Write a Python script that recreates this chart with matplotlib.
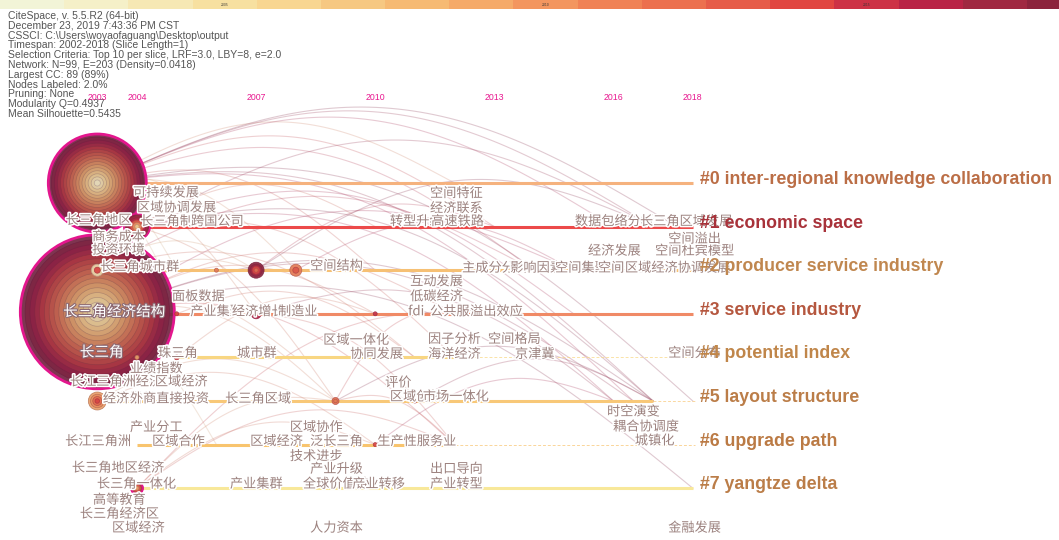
import numpy as np
import matplotlib.pyplot as plt
import matplotlib.patheffects as pe
from matplotlib.patches import Circle, Rectangle
from matplotlib.colors import to_rgb

plt.rcParams['font.family'] = ['Noto Sans CJK SC', 'DejaVu Sans']

# ---- data -------------------------------------------------------------
slice_years = list(range(2002, 2019))
slice_colors = ['#f2f4d7', '#f5f0c8', '#f6e8b4', '#f7e0a0', '#f8d691',
                '#f6c882', '#f6ba73', '#f5aa69', '#f3965f', '#f08255',
                '#ec704e', '#e65c48', '#e14641', '#cd3246', '#b92346',
                '#a02841', '#8c233c']
colorbar_marks = [2005, 2010, 2015]
year_ticks = [2003, 2004, 2007, 2010, 2013, 2016, 2018]

header_lines = [
    'CiteSpace, v. 5.5.R2 (64-bit)',
    'December 23, 2019 7:43:36 PM CST',
    'CSSCI: C:\\Users\\woyaofaguang\\Desktop\\output',
    'Timespan: 2002-2018 (Slice Length=1)',
    'Selection Criteria: Top 10 per slice, LRF=3.0, LBY=8, e=2.0',
    'Network: N=99, E=203 (Density=0.0418)',
    'Largest CC: 89 (89%)',
    'Nodes Labeled: 2.0%',
    'Pruning: None',
    'Modularity Q=0.4937',
    'Mean Silhouette=0.5435',
]

cluster_names = ['#0 inter-regional knowledge collaboration', '#1 economic space',
                 '#2 producer service industry', '#3 service industry',
                 '#4 potential index', '#5 layout structure',
                 '#6 upgrade path', '#7 yangtze delta']
cluster_text_colors = ['#bb6e46', '#a8323a', '#c0874f', '#b5573f',
                       '#c0864a', '#bb7d48', '#bb7a44', '#bb7d48']
cluster_line_colors = ['#f5b27e', '#ec4a4a', '#f6c074', '#f08a66',
                       '#f8d682', '#f8c878', '#f8c46e', '#f8e89a']
cluster_start = [2003, 2004, 2003, 2003, 2005, 2003, 2004, 2004]
cluster_solid_end = [2018, 2018, 2018, 2018, 2012, 2017, 2012, 2018]

# nodes: year, cluster, radius, ring years (inner -> outer), burst ring
nodes = [
    (2003, 0, 49, list(range(2003, 2019)), True),
    (2003, 3, 77, list(range(2003, 2019)), True),
    (2004, 1, 13, [2006, 2010, 2013, 2016, 2017, 2018], True),
    (2003, 2, 6, [2014, 2004], False),
    (2007, 2, 8, [2012, 2014, 2017, 2018], False),
    (2008, 2, 6, [2013, 2011], False),
    (2006, 2, 2, [2011], False),
    (2003, 5, 9, [2014, 2012, 2010, 2009], False),
    (2004, 7, 6, [2009, 2013, 2016], True),
    (2007, 3, 5, [2014, 2016], False),
    (2010, 3, 2, [2015], False),
    (2005, 3, 2, [2014], False),
    (2005, 4, 2.5, [2014], False),
    (2004, 4, 2, [2009], False),
    (2009, 5, 3.5, [2011, 2012], False),
    (2011, 5, 2, [2015], False),
    (2010, 6, 2, [2014], False),
]

# links: year1, cluster1, year2, cluster2, year of link
links = [
    (2003, 0, 2012, 0, 2010), (2003, 0, 2017, 1, 2017), (2003, 0, 2017.6, 1, 2018),
    (2003, 0, 2016, 1, 2016), (2003, 0, 2017, 5, 2017), (2003, 0, 2016.5, 5, 2016),
    (2003, 0, 2018, 5, 2018), (2003, 0, 2014, 2, 2015), (2003, 0, 2010, 2, 2013),
    (2003, 0, 2008, 2, 2009), (2003, 0, 2006, 1, 2008), (2003, 0, 2005, 2, 2006),
    (2003, 0, 2007, 3, 2010), (2003, 0, 2013, 1, 2014), (2004, 1, 2017, 1, 2017),
    (2004, 1, 2017, 5, 2018), (2004, 1, 2016, 5, 2016), (2004, 1, 2015, 3, 2016),
    (2004, 1, 2012, 4, 2013), (2004, 1, 2009, 5, 2011), (2004, 1, 2010, 1, 2012),
    (2003, 3, 2017, 5, 2018), (2003, 3, 2016.5, 5, 2017), (2003, 3, 2018, 7, 2018),
    (2003, 3, 2012, 3, 2013), (2003, 3, 2010, 3, 2012), (2003, 3, 2007, 2, 2009),
    (2003, 3, 2008, 4, 2010), (2003, 3, 2009, 5, 2010), (2003, 3, 2012, 6, 2014),
    (2003, 3, 2006, 6, 2007), (2003, 3, 2015, 2, 2016), (2003, 2, 2007, 2, 2008),
    (2003, 2, 2014, 2, 2015), (2003, 2, 2011, 4, 2012), (2003, 2, 2005, 3, 2006),
    (2007, 2, 2013, 1, 2015), (2007, 2, 2017, 1, 2018), (2007, 3, 2016, 5, 2017),
    (2007, 3, 2012, 6, 2013), (2008, 2, 2015, 2, 2016), (2009, 5, 2012, 6, 2013),
    (2009, 5, 2017, 5, 2018), (2009, 5, 2011, 3, 2014), (2004, 7, 2010, 6, 2011),
    (2004, 7, 2012, 6, 2013), (2004, 7, 2009, 5, 2010), (2004, 7, 2013, 3, 2014),
    (2005, 4, 2010, 3, 2011), (2003, 5, 2009, 5, 2010), (2003, 5, 2010, 6, 2011),
    (2005, 3, 2011, 4, 2012), (2010, 6, 2016, 5, 2016), (2011, 5, 2017, 5, 2017),
    (2004, 1, 2005, 3, 2005), (2003, 0, 2004, 4, 2005),
]

# labels: text, year position, cluster, offset from the line (px)
labels = [
    ('可持续发展', 2003.9, 0, 10), ('区域协调发展', 2004.0, 0, 25),
    ('长三角地区', 2002.2, 1, -6), ('长三角制造业', 2004.08, 1, -5),
    ('跨国公司', 2005.36, 1, -5), ('空间特征', 2011.38, 1, -33),
    ('经济联系', 2011.38, 1, -18), ('转型升级', 2010.37, 1, -5),
    ('高速铁路', 2011.41, 1, -5), ('数据包络分析', 2015.03, 1, -5),
    ('长三角区域发展', 2016.67, 1, -5),
    ('商务成本', 2002.87, 2, -33), ('投资环境', 2002.87, 2, -20),
    ('长三角城市群', 2003.07, 2, -3), ('空间结构', 2008.36, 2, -4),
    ('主成分分析', 2012.19, 2, -2), ('影响因素', 2013.4, 2, -2),
    ('空间集聚', 2014.53, 2, -2), ('空间效应', 2015.61, 2, -2),
    ('区域经济协调发展', 2016.29, 2, -2), ('经济发展', 2015.36, 2, -19),
    ('空间杜宾模型', 2017.05, 2, -19), ('空间溢出', 2017.38, 2, -31),
    ('面板数据', 2004.88, 3, -17), ('产业集聚', 2005.34, 3, -2),
    ('经济增长', 2006.39, 3, -2), ('制造业', 2007.55, 3, -2),
    ('互动发展', 2010.88, 3, -32), ('低碳经济', 2010.88, 3, -17),
    ('fdi', 2010.83, 3, -2), ('公共服务', 2011.38, 3, -2),
    ('溢出效应', 2012.39, 3, -2),
    ('珠三角', 2004.53, 4, -4), ('城市群', 2006.52, 4, -4),
    ('区域一体化', 2008.69, 4, -17), ('协同发展', 2009.37, 4, -3),
    ('因子分析', 2011.33, 4, -18), ('空间格局', 2012.84, 4, -18),
    ('海洋经济', 2011.33, 4, -3), ('京津冀', 2013.52, 4, -3),
    ('空间分布', 2017.38, 4, -4),
    ('业绩指数', 2003.82, 5, -32), ('长江三角洲经济', 2002.31, 5, -19),
    ('区域经济', 2004.45, 5, -19), ('经济增长', 2003.14, 5, -2),
    ('外商直接投资', 2003.82, 5, -2), ('长三角区域', 2006.22, 5, -2),
    ('评价', 2010.25, 5, -18), ('区域创新', 2010.37, 5, -4),
    ('市场一体化', 2011.2, 5, -4), ('时空演变', 2015.84, 5, 11),
    ('耦合协调度', 2015.99, 5, 26), ('城镇化', 2016.54, 5, 40),
    ('产业分工', 2003.82, 6, -17), ('长江三角洲', 2002.19, 6, -3),
    ('区域合作', 2004.38, 6, -3), ('区域协作', 2007.85, 6, -17),
    ('区域经济', 2006.85, 6, -3), ('泛长三角', 2008.36, 6, -3),
    ('生产性服务业', 2010.05, 6, -3), ('技术进步', 2007.85, 6, 12),
    ('长三角地区经济', 2002.36, 7, -20), ('长三角一体化', 2002.99, 7, -4),
    ('产业集群', 2006.34, 7, -4), ('产业升级', 2008.36, 7, -19),
    ('全球价值链', 2008.18, 7, -4), ('产业转移', 2009.42, 7, -4),
    ('出口导向', 2011.38, 7, -19), ('产业转型', 2011.38, 7, -4),
    ('高等教育', 2002.89, 7, 12), ('长三角经济区', 2002.56, 7, 26),
    ('区域经济', 2003.37, 7, 40), ('人力资本', 2008.36, 7, 40),
    ('金融发展', 2017.38, 7, 40),
]
# labels drawn white on top of the large nodes
white_labels = [('长三角经济结构', 2002.14, 3, -2), ('长三角', 2002.56, 4, -5)]


# ---- layout helpers ----------------------------------------------------
def year_x(year):
    return 137 + 39.7 * (year - 2004)


def cluster_y(c):
    return 183 + 43.6 * c


def mix(c, other, w):
    a = np.array(to_rgb(c))
    b = np.array(to_rgb(other))
    return tuple(a * (1 - w) + b * w)


def slice_color(year):
    return slice_colors[int(round(year)) - 2002]


fig = plt.figure(figsize=(10.59, 5.40), dpi=100)
ax = fig.add_axes([0, 0, 1, 1])
ax.set_xlim(0, 1059)
ax.set_ylim(540, 0)
ax.axis('off')

# colour bar of time slices
seg = 1059 / 16.5
for i, col in enumerate(slice_colors):
    ax.add_patch(Rectangle((i * seg, 0), seg, 9, fc=col, ec='none', zorder=1))
for yr in colorbar_marks:
    ax.text((yr - 2002 + 0.5) * seg, 4.5, str(yr), fontsize=2.2, color='#333333',
            ha='center', va='center', family='DejaVu Sans', zorder=2)

# header
for i, line in enumerate(header_lines):
    ax.text(8, 16 + 9.8 * i, line, fontsize=7.5, color='#555555', ha='left',
            va='center', family=['Liberation Sans', 'DejaVu Sans'])

# year labels
for yr in year_ticks:
    ax.text(year_x(yr), 98, str(yr), fontsize=6.3, color='#e8178f', ha='center',
            va='center', family=['Liberation Sans', 'DejaVu Sans'])

# links as arcs
t = np.linspace(0, 1, 80)
for y1, c1, y2, c2, ly in links:
    x1, x2 = year_x(y1), year_x(y2)
    v1, v2 = cluster_y(c1), cluster_y(c2)
    h = 0.16 * abs(x2 - x1) + 4
    xs = x1 + (x2 - x1) * t
    ys = v1 + (v2 - v1) * t - h * np.sin(np.pi * t)
    col = mix(slice_color(ly), '#b49cb0', 0.45)
    ax.plot(xs, ys, color=col, lw=0.8, alpha=0.32, zorder=2)

# cluster timelines
for c in range(len(cluster_names)):
    y = cluster_y(c)
    ax.plot([year_x(cluster_start[c]), year_x(cluster_solid_end[c])], [y, y],
            color=cluster_line_colors[c], lw=2.2, solid_capstyle='butt', zorder=3)
    if cluster_solid_end[c] < 2018:
        ax.plot([year_x(cluster_solid_end[c]), year_x(2018) + 2], [y, y],
                color=cluster_line_colors[c], lw=0.7, ls=(0, (3, 2)), alpha=0.7,
                zorder=3)
    ax.text(year_x(2018) + 7, y + 1, cluster_names[c], fontsize=12.8,
            fontweight='bold', color=cluster_text_colors[c], ha='left',
            va='baseline', family=['Liberation Sans', 'DejaVu Sans'], zorder=6)

# nodes as tree rings
for yr, c, r, rings, burst in nodes:
    x, y = year_x(yr), cluster_y(c)
    if c == 3 and r > 50:
        y -= 2
    n = len(rings)
    big = r > 20
    for i in range(n - 1, -1, -1):
        rr = r * (i + 1) / n
        if big:
            fc = mix(slice_color(rings[i]), '#5e2446', 0.12 + 0.45 * i / n)
        else:
            fc = mix(slice_color(rings[i]), '#7a3a5c', 0.1)
        ec = mix(fc, '#4a1838', 0.3)
        ax.add_patch(Circle((x, y), rr, fc=fc, ec=ec, lw=0.5, alpha=0.92,
                            zorder=4))
    if burst:
        ax.add_patch(Circle((x, y), r, fill=False, ec='#e3168d',
                            lw=2.0 if big else 1.3, zorder=4))

# keyword labels
halo = [pe.withStroke(linewidth=2.2, foreground='white')]
for text, yr, c, off in labels:
    ax.text(year_x(yr), cluster_y(c) + off, text, fontsize=9.5, color='#9c827f',
            ha='left', va='center', path_effects=halo, zorder=5)
outline = [pe.withStroke(linewidth=1.6, foreground='#8c6a74')]
for text, yr, c, off in white_labels:
    ax.text(year_x(yr), cluster_y(c) + off, text, fontsize=10.5, color='white',
            ha='left', va='center', path_effects=outline, zorder=5)

fig.savefig('out.png', dpi=100)
